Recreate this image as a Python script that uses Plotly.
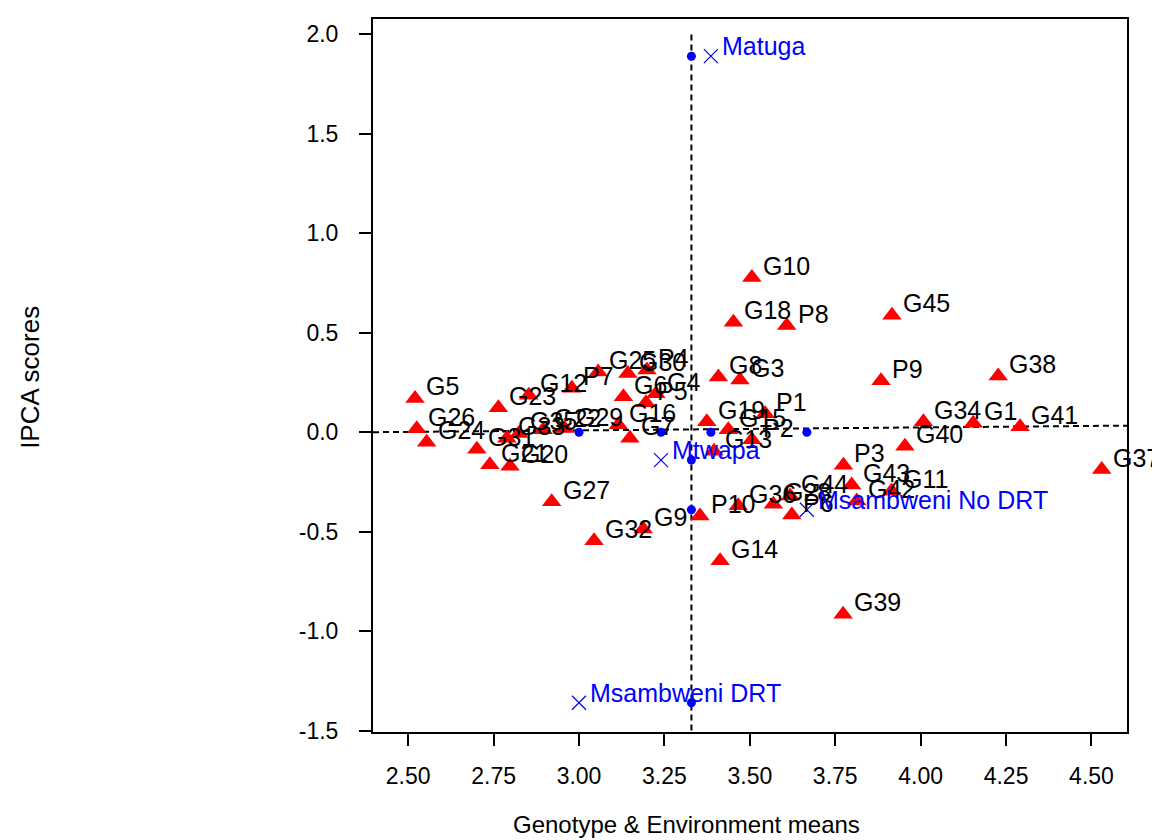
import plotly.graph_objects as go

# ---------------- data ----------------
genotypes = ["G5", "G26", "G24", "G23", "G12", "P7", "G25", "G30", "P4", "G6",
             "P5", "G4", "G31", "G21", "G20", "G33", "G35", "G22", "G29", "G16",
             "G7", "G27", "G32", "G9", "P10", "G14", "G39", "G37", "G38", "G45",
             "G10", "G18", "P8", "P9", "G8", "G3", "G19", "P1", "G15", "P2",
             "G13", "P3", "G40", "G34", "G1", "G41", "G43", "G42", "G11", "G36",
             "G28", "G44", "P6"]
geno_mean = [2.520, 2.525, 2.554, 2.764, 2.853, 2.979, 3.056, 3.143, 3.199, 3.130,
             3.196, 3.225, 2.701, 2.739, 2.798, 2.789, 2.824, 2.895, 2.958, 3.115,
             3.149, 2.920, 3.044, 3.188, 3.354, 3.413, 3.773, 4.530, 4.227, 3.916,
             3.506, 3.452, 3.608, 3.884, 3.408, 3.471, 3.374, 3.545, 3.437, 3.506,
             3.395, 3.774, 3.954, 4.008, 4.154, 4.291, 3.798, 3.813, 3.915, 3.466,
             3.569, 3.618, 3.623]
geno_ipca = [0.170, 0.017, -0.050, 0.123, 0.186, 0.221, 0.303, 0.295, 0.313, 0.178,
             0.148, 0.193, -0.086, -0.163, -0.171, -0.030, -0.006, 0.012, 0.018, 0.037,
             -0.030, -0.350, -0.546, -0.487, -0.421, -0.646, -0.915, -0.188, 0.283, 0.588,
             0.777, 0.553, 0.536, 0.258, 0.278, 0.262, 0.053, 0.093, 0.012, -0.038,
             -0.096, -0.166, -0.071, 0.053, 0.045, 0.028, -0.266, -0.346, -0.296, -0.370,
             -0.362, -0.321, -0.416]

environments = ["Matuga", "Mtwapa", "Msambweni No DRT", "Msambweni DRT"]
env_mean = [3.386, 3.240, 3.667, 3.000]
env_ipca = [1.89, -0.14, -0.39, -1.36]

grand_mean = 3.329
hline_y = [0.0, 0.033]

x_tickvals = [2.50, 2.75, 3.00, 3.25, 3.50, 3.75, 4.00, 4.25, 4.50]
x_ticktext = ["2.50", "2.75", "3.00", "3.25", "3.50", "3.75", "4.00", "4.25", "4.50"]
y_tickvals = [-1.5, -1.0, -0.5, 0.0, 0.5, 1.0, 1.5, 2.0]
y_ticktext = ["-1.5", "-1.0", "-0.5", "0.0", "0.5", "1.0", "1.5", "2.0"]

x_title = "Genotype & Environment means"
y_title = "IPCA scores"

# ---------------- figure ----------------
FONT = "Arial, Liberation Sans, sans-serif"
X_RANGE = [2.397, 4.604]
Y_RANGE = [-1.507, 2.077]

fig = go.Figure()

# reference lines
fig.add_trace(go.Scatter(
    x=[grand_mean, grand_mean], y=[y_tickvals[0], y_tickvals[-1]],
    mode="lines", line=dict(color="black", width=2, dash="6px,4px"),
    hoverinfo="skip", showlegend=False))
fig.add_trace(go.Scatter(
    x=X_RANGE, y=hline_y,
    mode="lines", line=dict(color="black", width=2, dash="6px,4px"),
    hoverinfo="skip", showlegend=False))

# projection dots of environments
fig.add_trace(go.Scatter(
    x=env_mean + [grand_mean] * len(env_ipca),
    y=[0.0] * len(env_mean) + env_ipca,
    mode="markers", marker=dict(symbol="circle", size=9, color="#0000ff"),
    showlegend=False, cliponaxis=False))

# genotypes
fig.add_trace(go.Scatter(
    x=geno_mean, y=geno_ipca, mode="markers",
    marker=dict(symbol="triangle-up", size=17, color="#ff0000",
                line=dict(width=0)),
    showlegend=False, cliponaxis=False))

# environments
fig.add_trace(go.Scatter(
    x=env_mean, y=env_ipca, mode="markers",
    marker=dict(symbol="x-thin-open", size=14,
                line=dict(width=1.2, color="#0000ff"), color="#0000ff"),
    showlegend=False, cliponaxis=False))

annotations = []
for name, xv, yv in zip(genotypes, geno_mean, geno_ipca):
    annotations.append(dict(
        x=xv, y=yv, xref="x", yref="y", text=name, showarrow=False,
        xanchor="left", yanchor="middle", xshift=9, yshift=12,
        font=dict(family=FONT, size=25, color="black")))
for name, xv, yv in zip(environments, env_mean, env_ipca):
    annotations.append(dict(
        x=xv, y=yv, xref="x", yref="y", text=name, showarrow=False,
        xanchor="left", yanchor="middle", xshift=9, yshift=10,
        font=dict(family=FONT, size=25, color="#0000ff")))

annotations.append(dict(
    x=0.4158, y=-0.130, xref="paper", yref="paper", text=x_title,
    showarrow=False, xanchor="center", yanchor="middle",
    font=dict(family=FONT, size=24, color="black")))
annotations.append(dict(
    x=-0.455, y=0.498, xref="paper", yref="paper", text=y_title,
    showarrow=False, xanchor="center", yanchor="middle", textangle=-90,
    font=dict(family=FONT, size=26, color="black")))

fig.update_layout(
    width=1152, height=832,
    margin=dict(l=365, r=33, t=9, b=108, pad=0),
    paper_bgcolor="white", plot_bgcolor="white",
    font=dict(family=FONT, color="black"),
    annotations=annotations,
    xaxis=dict(range=X_RANGE, tickvals=x_tickvals, ticktext=x_ticktext,
               showgrid=False, zeroline=False, showline=True, mirror=True,
               linecolor="black", linewidth=2, ticks="outside", ticklen=12,
               tickwidth=2, tickcolor="black", ticklabelstandoff=10,
               tickfont=dict(family=FONT, size=23, color="black")),
    yaxis=dict(range=Y_RANGE, tickvals=y_tickvals, ticktext=y_ticktext,
               showgrid=False, zeroline=False, showline=True, mirror=True,
               linecolor="black", linewidth=2, ticks="outside", ticklen=12,
               tickwidth=2, tickcolor="black", ticklabelstandoff=16,
               tickfont=dict(family=FONT, size=23, color="black")),
)

fig.write_html("out.html")
